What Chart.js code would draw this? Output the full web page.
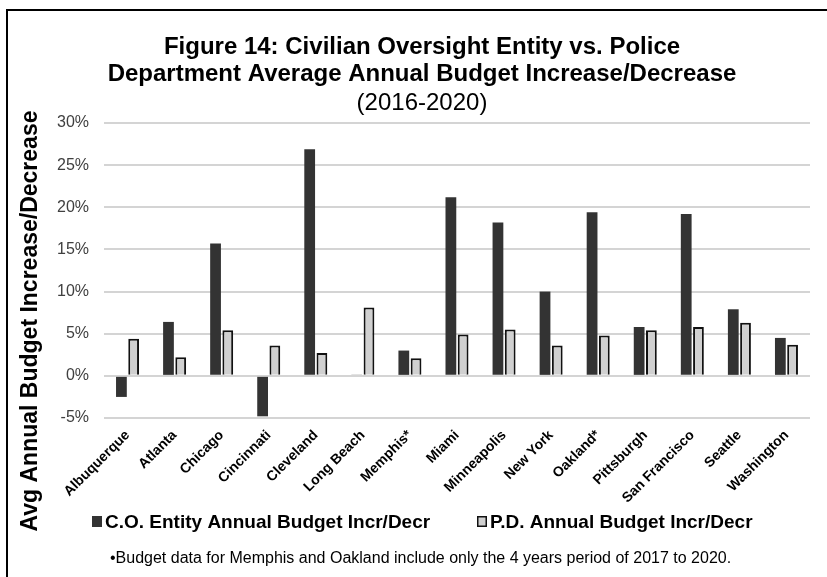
<!DOCTYPE html>
<html>
<head>
<meta charset="utf-8">
<script src="https://cdn.jsdelivr.net/npm/chart.js@4/dist/chart.umd.min.js"></script>
<style>
  html, body { margin: 0; padding: 0; background: #fff; overflow: hidden; }
  #wrap { position: relative; width: 827px; height: 577px; }
  #frame { position: absolute; left: 6px; top: 9px; width: 900px; height: 700px; border: 2px solid #000; }
  canvas { position: absolute; left: 0; top: 0; }
</style>
</head>
<body>
<div id="wrap">
  <div id="frame"></div>
  <canvas id="budgetChart" width="827" height="577"></canvas>
</div>
<script>
const FONT = '"Liberation Sans", Arial, sans-serif';

const cities = ['Albuquerque', 'Atlanta', 'Chicago', 'Cincinnati', 'Cleveland', 'Long Beach', 'Memphis*',
  'Miami', 'Minneapolis', 'New York', 'Oakland*', 'Pittsburgh', 'San Francisco', 'Seattle', 'Washington'];
const coChange = [-2.5, 6.4, 15.7, -4.8, 26.9, 0.1, 3.0, 21.2, 18.2, 10.0, 19.4, 5.8, 19.2, 7.9, 4.5];
const pdChange = [4.4, 2.2, 5.4, 3.6, 2.7, 8.1, 2.1, 4.9, 5.5, 3.6, 4.8, 5.4, 5.8, 6.3, 3.7];
const yTicks = [-5, 0, 5, 10, 15, 20, 25, 30];

const titleLines = ['Figure 14: Civilian Oversight Entity vs. Police', 'Department Average Annual Budget Increase/Decrease'];
const subtitle = '(2016-2020)';
const yTitle = 'Avg Annual Budget Increase/Decrease';
const footnote = '\u2022Budget data for Memphis and Oakland include only the 4 years period of 2017 to 2020.';

// title, axis title, legend and footnote drawn straight onto the canvas
const decorations = {
  id: 'decorations',
  afterDraw(chart) {
    const ctx = chart.ctx;
    ctx.save();
    ctx.fillStyle = '#000';
    ctx.textAlign = 'center';
    ctx.textBaseline = 'alphabetic';

    ctx.font = `bold 24px ${FONT}`;
    ctx.fillText(titleLines[0], 422, 54);
    ctx.fillText(titleLines[1], 422, 81);
    ctx.font = `24px ${FONT}`;
    ctx.fillText(subtitle, 422, 110);

    ctx.save();
    ctx.translate(31, 321);
    ctx.rotate(-Math.PI / 2);
    ctx.font = `bold 23px ${FONT}`;
    ctx.textBaseline = 'middle';
    ctx.fillText(yTitle, 0, 0);
    ctx.restore();

    // legend
    ctx.textAlign = 'left';
    ctx.font = `bold 19px ${FONT}`;
    const legendX = [92, 477];
    chart.data.datasets.forEach((ds, i) => {
      const x = legendX[i];
      ctx.fillStyle = ds.backgroundColor;
      ctx.fillRect(x, 516, 10, 11);
      if (ds.borderWidth) {
        ctx.strokeStyle = ds.borderColor;
        ctx.lineWidth = 1.5;
        ctx.strokeRect(x + 0.75, 516.75, 8.5, 9.5);
      }
      ctx.fillStyle = '#000';
      ctx.fillText(ds.label, x + 13, 528);
    });

    ctx.font = `16px ${FONT}`;
    ctx.fillText(footnote, 110, 563);
    ctx.restore();
  }
};

new Chart(document.getElementById('budgetChart'), {
  type: 'bar',
  data: {
    labels: cities,
    datasets: [
      {
        label: 'C.O. Entity Annual Budget Incr/Decr',
        data: coChange,
        backgroundColor: '#333333',
        borderWidth: 0,
        categoryPercentage: 0.52,
        barPercentage: 0.88
      },
      {
        label: 'P.D. Annual Budget Incr/Decr',
        data: pdChange,
        backgroundColor: '#d0d0d0',
        borderColor: '#111111',
        borderWidth: 2,
        categoryPercentage: 0.52,
        barPercentage: 0.88
      }
    ]
  },
  options: {
    responsive: false,
    animation: false,
    devicePixelRatio: 1,
    layout: { padding: { top: 123, right: 17, bottom: 0, left: 0 } },
    plugins: {
      legend: { display: false },
      title: { display: false },
      tooltip: { enabled: false }
    },
    scales: {
      x: {
        grid: { display: false },
        border: { display: false },
        ticks: {
          autoSkip: false,
          minRotation: 45,
          maxRotation: 45,
          padding: 1,
          color: '#000',
          font: { family: FONT, size: 14, weight: 'bold' }
        },
        afterFit: (scale) => { scale.height = 159; }
      },
      y: {
        min: yTicks[0],
        max: yTicks[yTicks.length - 1],
        afterBuildTicks: (scale) => { scale.ticks = yTicks.map(v => ({ value: v })); },
        grid: { color: '#d4d4d4', lineWidth: 2, drawTicks: false },
        border: { display: false },
        ticks: {
          padding: 15,
          color: '#404040',
          font: { family: FONT, size: 16 },
          callback: (v) => `${v}%`
        },
        afterFit: (scale) => { scale.width = 104; }
      }
    }
  },
  plugins: [decorations]
});
</script>
</body>
</html>
